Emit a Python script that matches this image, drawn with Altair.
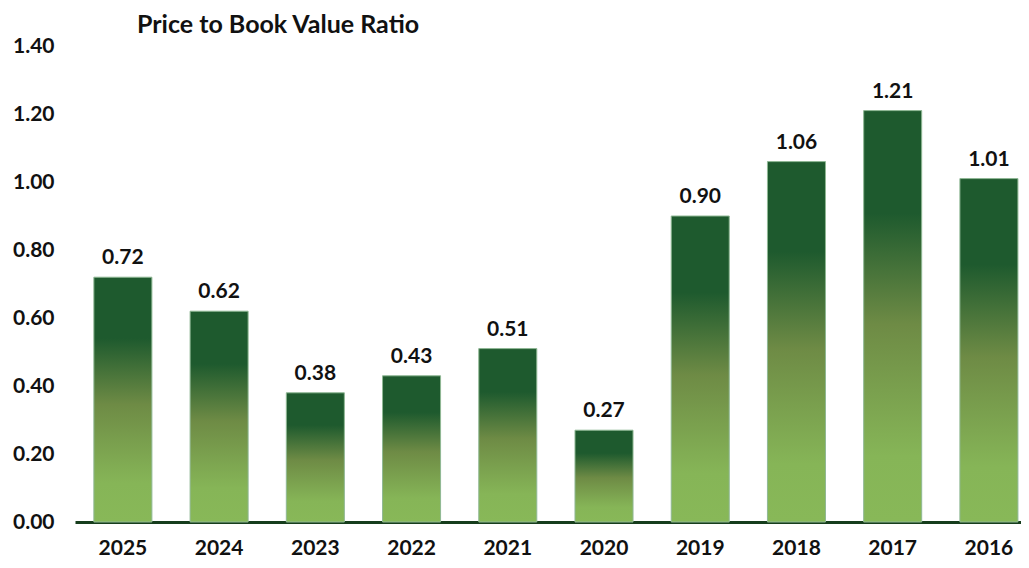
import altair as alt
import pandas as pd

title_text = ["Price to Book Value Ratio"]
years = ["2025", "2024", "2023", "2022", "2021", "2020", "2019", "2018", "2017", "2016"]
ratios = [0.72, 0.62, 0.38, 0.43, 0.51, 0.27, 0.90, 1.06, 1.21, 1.01]
y_ticks = [0.0, 0.2, 0.4, 0.6, 0.8, 1.0, 1.2, 1.4]

df = pd.DataFrame({"year": years, "ratio": ratios})
tdf = pd.DataFrame({"t": title_text})
FONT = "Lato"

gradient = alt.Gradient(
    gradient="linear",
    x1=0, x2=0, y1=1, y2=0,
    stops=[
        alt.GradientStop(color="#88b858", offset=0.0),
        alt.GradientStop(color="#86b557", offset=0.16),
        alt.GradientStop(color="#6e8b45", offset=0.48),
        alt.GradientStop(color="#1e5a2e", offset=0.75),
        alt.GradientStop(color="#1e5a2e", offset=1.0),
    ],
)

x = alt.X(
    "year:N", sort=years, title=None,
    scale=alt.Scale(paddingInner=0.397, paddingOuter=0.114, align=0.86),
    axis=alt.Axis(labelAngle=0, labelFont=FONT, labelFontSize=21, labelFontWeight="bold",
                  labelColor="#111111", labelPadding=15, ticks=False,
                  domainColor="#163d1c", domainWidth=3),
)
y = alt.Y(
    "ratio:Q", title=None,
    scale=alt.Scale(domain=[0, 1.4], nice=False),
    axis=alt.Axis(values=y_ticks, format=".2f", labelFont=FONT, labelFontSize=21,
                  labelFontWeight="bold", labelColor="#111111", labelPadding=21,
                  ticks=False, domain=False, grid=False, minExtent=67),
)

bars = alt.Chart(df).mark_bar(color=gradient, stroke="#8fb894", strokeWidth=1).encode(x=x, y=y)
labels = alt.Chart(df).mark_text(
    baseline="bottom", dy=-9, font=FONT, fontSize=21, fontWeight="bold", color="#111111"
).encode(x=alt.X("year:N", sort=years), y="ratio:Q", text=alt.Text("ratio:Q", format=".2f"))
title = alt.Chart(tdf).mark_text(
    align="left", baseline="middle", font=FONT, fontSize=25, fontWeight="bold", color="#111111"
).encode(x=alt.value(62), y=alt.value(-21), text="t:N")

chart = (bars + labels + title).properties(
    width=946, height=476,
    padding={"left": 0, "right": 0, "top": 5, "bottom": 0},
).configure_view(stroke=None)

chart.save("out.html", embed_options={"renderer": "svg", "actions": False})
